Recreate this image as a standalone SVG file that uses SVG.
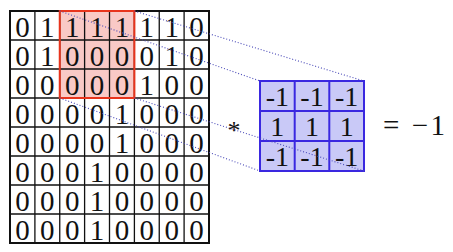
<svg xmlns="http://www.w3.org/2000/svg" width="453" height="252" viewBox="0 0 453 252">
<style>
text{font-family:"Liberation Serif","Times New Roman",serif;font-size:29px;fill:#111;text-anchor:middle}
text.kn{font-size:28px}
text.eq{text-anchor:start;font-size:29px}
text.ast{font-size:26px}
.g{stroke:#111;stroke-width:1.3;fill:none}
.k{stroke:#3a28e0;stroke-width:2;fill:none}
.d{stroke:#4a4ab8;stroke-width:1.1;stroke-dasharray:1 2;fill:none}
</style>
<rect width="453" height="252" fill="#fff"/>
<g id="input">
<rect x="59.75" y="11" width="74.6" height="87" fill="#f9c9c6"/>
<path class="g" d="M34.9 11V243M59.75 11V243M84.6 11V243M109.5 11V243M134.4 11V243M159.25 11V243M184.1 11V243M10 40H209M10 69H209M10 98H209M10 127H209M10 156H209M10 185H209M10 214H209"/>
<rect x="10" y="11" width="199" height="232" fill="none" stroke="#111" stroke-width="2"/>
<rect x="59.75" y="11" width="74.6" height="87" fill="none" stroke="#e8341c" stroke-width="2"/>
<g id="r0"><text x="22.4" y="37">0</text><text x="47.3" y="37">1</text><text x="72.2" y="37">1</text><text x="97" y="37">1</text><text x="122" y="37">1</text><text x="146.8" y="37">1</text><text x="171.7" y="37">1</text><text x="196.5" y="37">0</text></g>
<g id="r1"><text x="22.4" y="66">0</text><text x="47.3" y="66">1</text><text x="72.2" y="66">0</text><text x="97" y="66">0</text><text x="122" y="66">0</text><text x="146.8" y="66">0</text><text x="171.7" y="66">1</text><text x="196.5" y="66">0</text></g>
<g id="r2"><text x="22.4" y="95">0</text><text x="47.3" y="95">0</text><text x="72.2" y="95">0</text><text x="97" y="95">0</text><text x="122" y="95">0</text><text x="146.8" y="95">1</text><text x="171.7" y="95">0</text><text x="196.5" y="95">0</text></g>
<g id="r3"><text x="22.4" y="124">0</text><text x="47.3" y="124">0</text><text x="72.2" y="124">0</text><text x="97" y="124">0</text><text x="122" y="124">1</text><text x="146.8" y="124">0</text><text x="171.7" y="124">0</text><text x="196.5" y="124">0</text></g>
<g id="r4"><text x="22.4" y="153">0</text><text x="47.3" y="153">0</text><text x="72.2" y="153">0</text><text x="97" y="153">0</text><text x="122" y="153">1</text><text x="146.8" y="153">0</text><text x="171.7" y="153">0</text><text x="196.5" y="153">0</text></g>
<g id="r5"><text x="22.4" y="182">0</text><text x="47.3" y="182">0</text><text x="72.2" y="182">0</text><text x="97" y="182">1</text><text x="122" y="182">0</text><text x="146.8" y="182">0</text><text x="171.7" y="182">0</text><text x="196.5" y="182">0</text></g>
<g id="r6"><text x="22.4" y="211">0</text><text x="47.3" y="211">0</text><text x="72.2" y="211">0</text><text x="97" y="211">1</text><text x="122" y="211">0</text><text x="146.8" y="211">0</text><text x="171.7" y="211">0</text><text x="196.5" y="211">0</text></g>
<g id="r7"><text x="22.4" y="240">0</text><text x="47.3" y="240">0</text><text x="72.2" y="240">0</text><text x="97" y="240">1</text><text x="122" y="240">0</text><text x="146.8" y="240">0</text><text x="171.7" y="240">0</text><text x="196.5" y="240">0</text></g>
</g>
<g id="kernel">
<rect x="260" y="81" width="104" height="90" fill="#c9c9f7"/>
<path class="k" d="M294.7 81V171M329.3 81V171M260 111H364M260 141H364"/>
<rect class="k" x="260" y="81" width="104" height="90"/>
<text class="kn" x="277.3" y="106">-1</text><text class="kn" x="312" y="106">-1</text><text class="kn" x="346.7" y="106">-1</text>
<text class="kn" x="277.3" y="136">1</text><text class="kn" x="312" y="136">1</text><text class="kn" x="346.7" y="136">1</text>
<text class="kn" x="277.3" y="166">-1</text><text class="kn" x="312" y="166">-1</text><text class="kn" x="346.7" y="166">-1</text>
</g>
<g id="connectors">
<path class="d" d="M59.75 11L260 81M134.4 11L364 81M59.75 98L260 171M134.4 98L364 171"/>
</g>
<g id="labels">
<text class="ast" x="234" y="139">*</text>
<text class="eq" x="383" y="135" textLength="62" lengthAdjust="spacing">= −1</text>
</g>
</svg>
